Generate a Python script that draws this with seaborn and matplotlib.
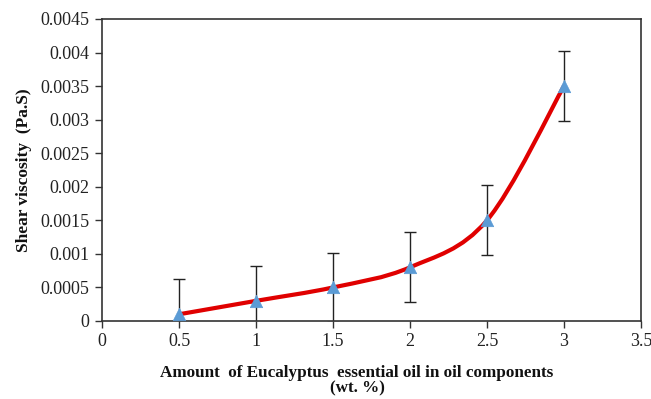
import numpy as np
import matplotlib
matplotlib.use("Agg")
import matplotlib.pyplot as plt
import seaborn as sns
import pandas as pd
from matplotlib.path import Path
from matplotlib.patches import PathPatch

amount = [0.5, 1.0, 1.5, 2.0, 2.5, 3.0]
viscosity = [0.0001, 0.0003, 0.0005, 0.0008, 0.0015, 0.0035]
error = [0.00052, 0.00052, 0.00052, 0.00052, 0.00052, 0.00052]
xticks = [0, 0.5, 1, 1.5, 2, 2.5, 3, 3.5]
yticks = [0, 0.0005, 0.001, 0.0015, 0.002, 0.0025, 0.003, 0.0035, 0.004, 0.0045]

sns.set_theme(style="white")
plt.rcParams['font.family'] = ['Liberation Serif', 'DejaVu Serif']

df = pd.DataFrame({"amount": amount, "viscosity": viscosity, "error": error})

fig = plt.figure(figsize=(6.51, 3.99), dpi=100)
ax = fig.add_axes([0.1567, 0.1955, 0.9846 - 0.1567, 0.9524 - 0.1955])

# error bars
ax.errorbar(df["amount"], df["viscosity"], yerr=df["error"], fmt="none",
            ecolor="#222222", elinewidth=1.0, capsize=4, capthick=1.0, zorder=2)

# smoothed line (Excel-style Catmull-Rom bezier through the data points)
pts = np.column_stack([df["amount"], df["viscosity"]])
verts = [tuple(pts[0])]
codes = [Path.MOVETO]
n = len(pts)
for i in range(n - 1):
    p0 = pts[i - 1] if i > 0 else pts[i]
    p1 = pts[i]
    p2 = pts[i + 1]
    p3 = pts[i + 2] if i + 2 < n else pts[i + 1]
    c1 = p1 + (p2 - p0) / 6.0
    c2 = p2 - (p3 - p1) / 6.0
    verts += [tuple(c1), tuple(c2), tuple(p2)]
    codes += [Path.CURVE4] * 3
patch = PathPatch(Path(verts, codes), facecolor="none", edgecolor="#E00000",
                  linewidth=3, transform=ax.transData, zorder=3, capstyle="round")
ax.add_patch(patch)

sns.scatterplot(data=df, x="amount", y="viscosity", marker="^", s=80,
                color="#5B9BD5", edgecolor="#5B9BD5", linewidth=0.5, ax=ax, zorder=4)

ax.set_xlim(0, 3.5)
ax.set_ylim(0, 0.0045)
ax.set_xticks(xticks)
ax.set_xticklabels(["0", "0.5", "1", "1.5", "2", "2.5", "3", "3.5"])
ax.set_yticks(yticks)
ax.set_yticklabels(["0", "0.0005", "0.001", "0.0015", "0.002", "0.0025",
                    "0.003", "0.0035", "0.004", "0.0045"])
ax.tick_params(axis="both", direction="out", length=5, width=1, color="#333333",
               labelsize=13, labelcolor="#222222", pad=4, bottom=True, left=True)
for sp in ax.spines.values():
    sp.set_color("#333333")
    sp.set_linewidth(1.2)
    sp.set_visible(True)

ax.set_xlabel("Amount  of Eucalyptus  essential oil in oil components\n(wt. %)",
              fontsize=12.3, fontweight="bold", color="#111111",
              linespacing=0.95)
ax.xaxis.set_label_coords(0.473, -0.145)
ax.set_ylabel("Shear viscosity  (Pa.S)", fontsize=12.5, fontweight="bold",
              color="#111111", labelpad=6)

fig.savefig("out.png", dpi=100)
